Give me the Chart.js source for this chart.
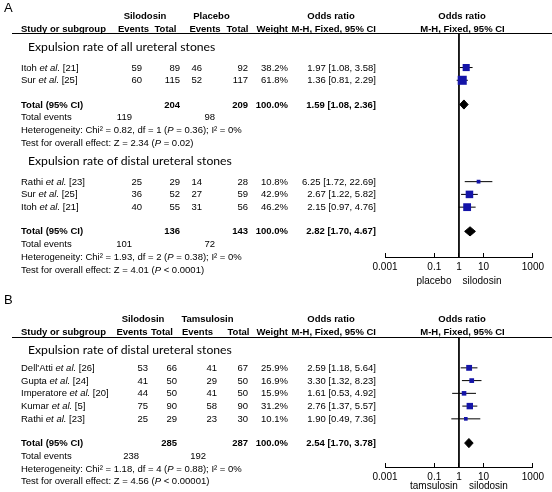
<!DOCTYPE html>
<html>
<head>
<meta charset="utf-8">
<script src="https://cdn.jsdelivr.net/npm/chart.js@4.4.0/dist/chart.umd.min.js"></script>
<style>
  body { margin: 0; background: #fff; }
  #page { position: relative; width: 552px; height: 492px; overflow: hidden;
          font-family: "Liberation Sans", Arial, sans-serif; font-size: 9.5px; color: #000; }
  #page canvas { position: absolute; left: 0; }
  .t { position: absolute; white-space: nowrap; line-height: 12px; height: 12px; }
  .b { font-weight: bold; }
  .sub { font-family: Lato, sans-serif; font-size: 12.2px; line-height: 16px; height: 16px; }
  .letter { font-size: 13px; line-height: 14px; height: 14px; }
  .rule { position: absolute; left: 12px; width: 540px; height: 1px; background: #000; }
</style>
</head>
<body>
<div id="page">
  <canvas id="chartA" width="552" height="287" style="top:0"></canvas>
  <canvas id="chartB" width="552" height="200" style="top:292px"></canvas>
</div>
<script>
const xTicks = [0.001, 0.1, 1, 10, 1000];

// A, first subgroup: silodosin vs placebo, all ureteral stones
const allStudies = ['Itoh et al. [21]', 'Sur et al. [25]'];
const allSiloEvents = [59, 60];
const allSiloTotal = [89, 115];
const allPlaEvents = [46, 52];
const allPlaTotal = [92, 117];
const allWeight = [38.2, 61.8];
const allOR = [1.97, 1.36];
const allLow = [1.08, 0.81];
const allHigh = [3.58, 2.29];
const allTotals = [204, 209];
const allEventTotals = [119, 98];
const allPooled = [1.59, 1.08, 2.36];
const allHet = 'Heterogeneity: Chi² = 0.82, df = 1 (P = 0.36); I² = 0%';
const allTest = 'Test for overall effect: Z = 2.34 (P = 0.02)';

// A, second subgroup: silodosin vs placebo, distal stones
const distStudies = ['Rathi et al. [23]', 'Sur et al. [25]', 'Itoh et al. [21]'];
const distSiloEvents = [25, 36, 40];
const distSiloTotal = [29, 52, 55];
const distPlaEvents = [14, 27, 31];
const distPlaTotal = [28, 59, 56];
const distWeight = [10.8, 42.9, 46.2];
const distOR = [6.25, 2.67, 2.15];
const distLow = [1.72, 1.22, 0.97];
const distHigh = [22.69, 5.82, 4.76];
const distTotals = [136, 143];
const distEventTotals = [101, 72];
const distPooled = [2.82, 1.70, 4.67];
const distHet = 'Heterogeneity: Chi² = 1.93, df = 2 (P = 0.38); I² = 0%';
const distTest = 'Test for overall effect: Z = 4.01 (P < 0.0001)';

// B: silodosin vs tamsulosin, distal stones
const tamStudies = ["Dell'Atti et al. [26]", 'Gupta et al. [24]', 'Imperatore et al. [20]', 'Kumar et al. [5]', 'Rathi et al. [23]'];
const tamSiloEvents = [53, 41, 44, 75, 25];
const tamSiloTotal = [66, 50, 50, 90, 29];
const tamTamEvents = [41, 29, 41, 58, 23];
const tamTamTotal = [67, 50, 50, 90, 30];
const tamWeight = [25.9, 16.9, 15.9, 31.2, 10.1];
const tamOR = [2.59, 3.30, 1.61, 2.76, 1.90];
const tamLow = [1.18, 1.32, 0.53, 1.37, 0.49];
const tamHigh = [5.64, 8.23, 4.92, 5.57, 7.36];
const tamTotals = [285, 287];
const tamEventTotals = [238, 192];
const tamPooled = [2.54, 1.70, 3.78];
const tamHet = 'Heterogeneity: Chi² = 1.18, df = 4 (P = 0.88); I² = 0%';
const tamTest = 'Test for overall effect: Z = 4.56 (P < 0.00001)';

const PITCH = 12.75;
const BLUE = '#1414a8';
const FONT = '"Liberation Sans", Arial, sans-serif';
const page = document.getElementById('page');

function group(title, names, se, st, ce, ct, w, or, lo, hi, totals, evTotals, pooled, het, test) {
  return { title, names, se, st, ce, ct, w, or, lo, hi, totals, evTotals, pooled, het, test };
}

const panelA = {
  letter: 'A', letterY: 8, headY: 16, lineY: 33, y0: 46.5, headGap: 1.65,
  canvasTop: 0, canvasH: 287, axisY: 257, axisTitle: 'placebo    silodosin',
  arms: ['Silodosin', 'Placebo'], armX: [145, 211.5],
  evX: [133.5, 205], totX: [165.5, 237.5],
  col: { se: 142, st: 180, ce: 202, ct: 248, evS: 132, evC: 215 },
  groups: [
    group('Expulsion rate of all ureteral stones', allStudies, allSiloEvents, allSiloTotal, allPlaEvents, allPlaTotal,
          allWeight, allOR, allLow, allHigh, allTotals, allEventTotals, allPooled, allHet, allTest),
    group('Expulsion rate of distal ureteral stones', distStudies, distSiloEvents, distSiloTotal, distPlaEvents, distPlaTotal,
          distWeight, distOR, distLow, distHigh, distTotals, distEventTotals, distPooled, distHet, distTest)
  ]
};

const panelB = {
  letter: 'B', letterY: 300, headY: 319, lineY: 337, y0: 350, headGap: 1.4,
  canvasTop: 292, canvasH: 200, axisY: 467, axisTitle: 'tamsulosin    silodosin',
  arms: ['Silodosin', 'Tamsulosin'], armX: [143, 207.5],
  evX: [132, 197.5], totX: [162, 238.5],
  col: { se: 148, st: 177, ce: 217, ct: 248, evS: 139, evC: 206 },
  groups: [
    group('Expulsion rate of distal ureteral stones', tamStudies, tamSiloEvents, tamSiloTotal, tamTamEvents, tamTamTotal,
          tamWeight, tamOR, tamLow, tamHigh, tamTotals, tamEventTotals, tamPooled, tamHet, tamTest)
  ]
};

// row positions in "row units"
function layoutRows(p) {
  let u = 0;
  p.groups.forEach((g, gi) => {
    if (gi > 0) u += 1.4;
    g.uHead = u;
    u += p.headGap;
    g.uStudy = g.names.map((_, i) => u + i);
    u += g.names.length - 1 + 1.9;
    g.uTotal = u;
    u += 3;
  });
}

function put(html, x, y, align, cls, h) {
  h = h || 12;
  const s = document.createElement('span');
  s.className = 't' + (cls ? ' ' + cls : '');
  s.innerHTML = html;
  s.style.top = (y - h / 2) + 'px';
  if (align === 'r') s.style.right = (552 - x) + 'px';
  else if (align === 'c') { s.style.left = x + 'px'; s.style.transform = 'translateX(-50%)'; }
  else s.style.left = x + 'px';
  page.appendChild(s);
}

const fmtName = n => n.replace('et al.', '<i>et al.</i>');
const fmtP = s => s.replace('(P ', '(<i>P</i> ');
const fmtOR = (m, lo, hi) => `${m.toFixed(2)} [${lo.toFixed(2)}, ${hi.toFixed(2)}]`;

function drawTable(p) {
  const py = u => p.y0 + u * PITCH;
  put(p.letter, 4, p.letterY, 'l', 'letter', 14);
  put(p.arms[0], p.armX[0], p.headY, 'c', 'b');
  put(p.arms[1], p.armX[1], p.headY, 'c', 'b');
  put('Odds ratio', 331, p.headY, 'c', 'b');
  put('Odds ratio', 462, p.headY, 'c', 'b');
  const y2 = p.headY + 13;
  put('Study or subgroup', 21, y2, 'l', 'b');
  put('Events', p.evX[0], y2, 'c', 'b');
  put('Total', p.totX[0], y2, 'c', 'b');
  put('Events', p.evX[1], y2, 'c', 'b');
  put('Total', p.totX[1], y2, 'c', 'b');
  put('Weight', 288, y2, 'r', 'b');
  put('M-H, Fixed, 95% CI', 376, y2, 'r', 'b');
  put('M-H, Fixed, 95% CI', 462.5, y2, 'c', 'b');
  const rule = document.createElement('div');
  rule.className = 'rule';
  rule.style.top = p.lineY + 'px';
  page.appendChild(rule);

  const c = p.col;
  p.groups.forEach(g => {
    put(g.title, 28, py(g.uHead), 'l', 'sub', 16);
    g.names.forEach((n, i) => {
      const y = py(g.uStudy[i]);
      put(fmtName(n), 21, y, 'l');
      put(g.se[i], c.se, y, 'r');
      put(g.st[i], c.st, y, 'r');
      put(g.ce[i], c.ce, y, 'r');
      put(g.ct[i], c.ct, y, 'r');
      put(g.w[i].toFixed(1) + '%', 288, y, 'r');
      put(fmtOR(g.or[i], g.lo[i], g.hi[i]), 376, y, 'r');
    });
    let y = py(g.uTotal);
    put('Total (95% CI)', 21, y, 'l', 'b');
    put(g.totals[0], c.st, y, 'r', 'b');
    put(g.totals[1], c.ct, y, 'r', 'b');
    put('100.0%', 288, y, 'r', 'b');
    put(fmtOR(g.pooled[0], g.pooled[1], g.pooled[2]), 376, y, 'r', 'b');
    y = py(g.uTotal + 1);
    put('Total events', 21, y, 'l');
    put(g.evTotals[0], c.evS, y, 'r');
    put(g.evTotals[1], c.evC, y, 'r');
    put(fmtP(g.het), 21, py(g.uTotal + 2), 'l');
    put(fmtP(g.test), 21, py(g.uTotal + 3), 'l');
  });
}

function drawPlot(id, p) {
  const yMin = (p.lineY - p.y0) / PITCH;
  const yMax = (p.axisY - p.y0) / PITCH;
  const datasets = [];
  p.groups.forEach(g => {
    datasets.push({
      data: g.or.map((v, i) => ({ x: v, y: g.uStudy[i] })),
      pointStyle: 'rect',
      pointRadius: g.w.map(w => 1.15 * Math.sqrt(w) / Math.SQRT2),
      backgroundColor: BLUE,
      borderWidth: 0,
      order: 0
    });
    g.lo.forEach((lo, i) => {
      datasets.push({
        data: [{ x: lo, y: g.uStudy[i] }, { x: g.hi[i], y: g.uStudy[i] }],
        showLine: true, borderColor: '#000', borderWidth: 1, pointRadius: 0, order: 1
      });
    });
    const [m, lo, hi] = g.pooled;
    const u = g.uTotal;
    datasets.push({
      data: [{ x: lo, y: u }, { x: m, y: u - 0.36 }, { x: hi, y: u }, { x: m, y: u + 0.36 }, { x: lo, y: u }],
      showLine: true, fill: 'shape', backgroundColor: '#000', borderColor: '#000',
      borderWidth: 1, pointRadius: 0, order: 0
    });
  });
  // line of no effect
  datasets.push({
    data: [{ x: 1, y: yMin }, { x: 1, y: yMax }],
    showLine: true, borderColor: '#000', borderWidth: 1, pointRadius: 0, order: 2
  });

  new Chart(document.getElementById(id), {
    type: 'scatter',
    data: { datasets },
    options: {
      responsive: false,
      animation: false,
      events: [],
      layout: { padding: { left: 385, right: 9, top: p.lineY - p.canvasTop, bottom: 0 } },
      plugins: { legend: { display: false }, tooltip: { enabled: false } },
      scales: {
        x: {
          type: 'logarithmic',
          min: 0.001,
          max: 1000,
          afterBuildTicks: (s) => { s.ticks = xTicks.map(v => ({ value: v })); },
          afterFit: (s) => { s.height = p.canvasTop + p.canvasH - p.axisY; },
          ticks: {
            autoSkip: false, maxRotation: 0, padding: 8, color: '#000',
            font: { family: FONT, size: 10 },
            callback: (v) => String(v)
          },
          grid: { drawOnChartArea: false, tickLength: -4, color: '#000' },
          border: { color: '#000', width: 1 },
          title: {
            display: true, text: p.axisTitle, color: '#000', padding: 0,
            font: { family: FONT, size: 10 }
          }
        },
        y: { type: 'linear', reverse: true, min: yMin, max: yMax, display: false }
      }
    }
  });
}

[panelA, panelB].forEach(layoutRows);
drawTable(panelA);
drawTable(panelB);
drawPlot('chartA', panelA);
drawPlot('chartB', panelB);
</script>
</body>
</html>
